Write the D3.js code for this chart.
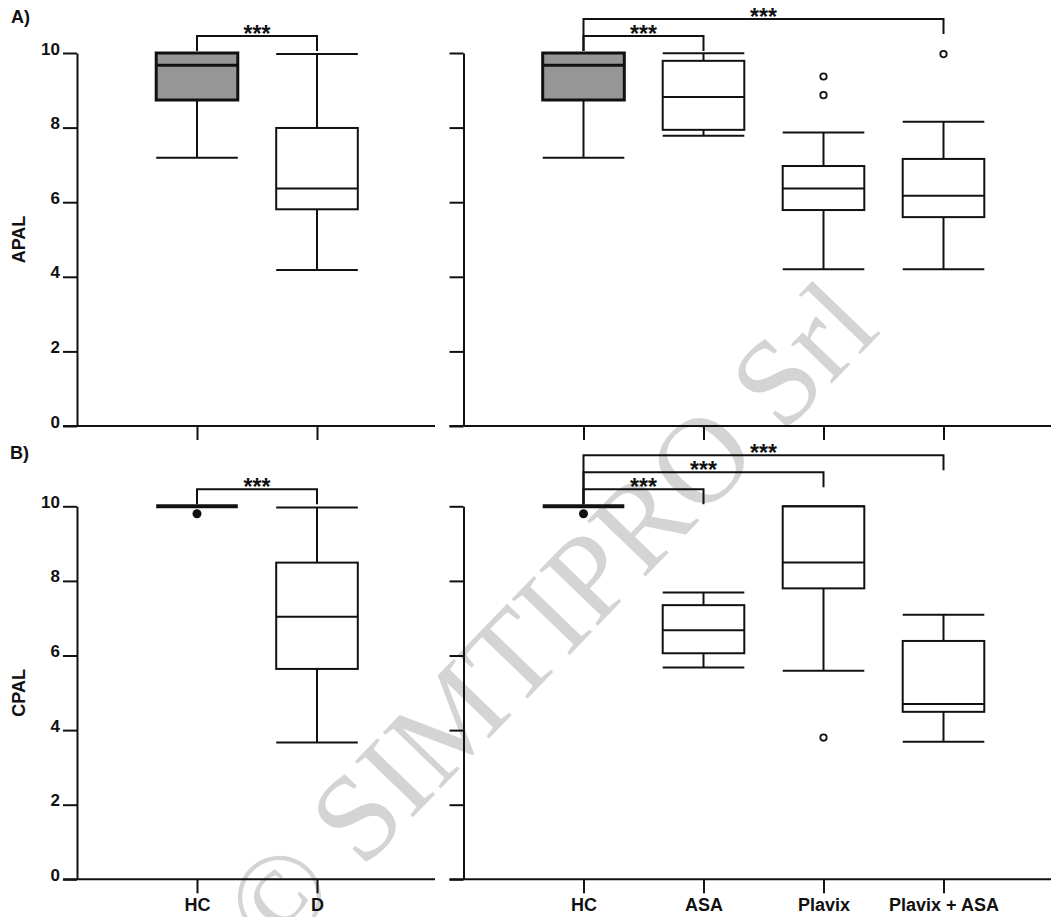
<!DOCTYPE html>
<html>
<head>
<meta charset="utf-8">
<script src="https://cdn.jsdelivr.net/npm/d3@7"></script>
<style>
  html, body { margin: 0; padding: 0; background: #fff; }
  svg { display: block; font-family: "Liberation Sans", Arial, Helvetica, sans-serif; }
</style>
</head>
<body>
<svg id="chart" width="1051" height="917"></svg>
<script>
// ---- data ----------------------------------------------------------------
const groupsTwo  = ["HC", "D"];
const groupsFour = ["HC", "ASA", "Plavix", "Plavix + ASA"];
const controlGroup = "HC";
const yTicks = [0, 2, 4, 6, 8, 10];

// five-number summaries: [low whisker, Q1, median, Q3, high whisker]
const apalTwo  = [[7.19, 8.74, 9.67, 10.0, 10.0], [4.18, 5.81, 6.37, 7.99, 9.97]];
const apalFour = [[7.19, 8.74, 9.67, 10.0, 10.0], [7.78, 7.94, 8.82, 9.79, 9.99],
                  [4.20, 5.79, 6.37, 6.97, 7.87], [4.20, 5.60, 6.17, 7.16, 8.16]];
const cpalTwo  = [[10, 10, 10, 10, 10], [3.67, 5.64, 7.04, 8.49, 9.97]];
const cpalFour = [[10, 10, 10, 10, 10], [5.68, 6.06, 6.68, 7.35, 7.69],
                  [5.59, 7.80, 8.49, 10.0, 10.0], [3.69, 4.49, 4.70, 6.39, 7.09]];

// points outside the whiskers, per group
const apalOutTwo  = [[], []];
const apalOutFour = [[], [], [9.37, 8.87], [9.97]];
const cpalOutTwo  = [[9.8], []];
const cpalOutFour = [[9.8], [], [3.8], []];

// pairwise comparisons marked above the boxes
const sigTwo      = [["HC", "D"]];
const sigApalFour = [["HC", "ASA"], ["HC", "Plavix + ASA"]];
const sigCpalFour = [["HC", "ASA"], ["HC", "Plavix"], ["HC", "Plavix + ASA"]];
const sigLabel = "***";

// ---- layout --------------------------------------------------------------
const W = 1051, H = 917;
const ink = "#111";
const rows = [
  { top: 53,    bottom: 426,   title: "APAL", letter: "A)", letterPos: [11, 23],  xLabels: false },
  { top: 506.3, bottom: 879.3, title: "CPAL", letter: "B)", letterPos: [10, 459], xLabels: true }
];
const cols = [
  { axisX: 77,    step: 120, lineEnd: 435,  yLabels: true },
  { axisX: 463.5, step: 120, lineEnd: 1051, yLabels: false }
];
const tickLen = 14;

const svg = d3.select("#chart");

// watermark sits underneath everything else
svg.append("text")
  .attr("transform", "translate(276,959) rotate(-46)")
  .attr("font-family", "'Liberation Serif', 'Times New Roman', serif")
  .attr("font-size", 123)
  .attr("fill", "#d4d4d4")
  .text("\u00A9 SIMTIPRO Srl");

function drawPanel(row, col, groups, stats, outliers, comparisons) {
  const g = svg.append("g");
  const y = d3.scaleLinear().domain([0, 10]).range([row.bottom, row.top]);
  const x = d3.scalePoint().domain(groups)
    .range([col.axisX, col.axisX + (groups.length + 1) * col.step])
    .padding(1);
  const boxW = col.step * 0.68;

  // y axis
  const yAxis = d3.axisLeft(y).tickValues(yTicks).tickSize(tickLen).tickSizeOuter(0).tickPadding(3);
  if (!col.yLabels) yAxis.tickFormat(() => "");
  const ya = g.append("g").attr("transform", `translate(${col.axisX},0)`).call(yAxis);
  ya.selectAll("path, line").attr("stroke", ink).attr("stroke-width", 2);
  ya.selectAll("text").attr("fill", ink).attr("font-size", 17).attr("font-weight", "bold")
    .attr("dy", "0.06em");

  // x axis
  const xAxis = d3.axisBottom(x).tickSize(tickLen).tickSizeOuter(0).tickPadding(5);
  if (!row.xLabels) xAxis.tickFormat(() => "");
  const xa = g.append("g").attr("transform", `translate(0,${y(0)})`).call(xAxis);
  xa.select(".domain").remove();
  xa.selectAll("line").attr("stroke", ink).attr("stroke-width", 2);
  xa.selectAll("text").attr("fill", ink).attr("font-size", 18).attr("font-weight", "bold");
  g.append("line")
    .attr("x1", col.axisX - tickLen).attr("x2", col.lineEnd)
    .attr("y1", y(0)).attr("y2", y(0))
    .attr("stroke", ink).attr("stroke-width", 2);

  // boxes
  groups.forEach((name, i) => {
    const [lo, q1, med, q3, hi] = stats[i];
    const cx = x(name);
    const isControl = name === controlGroup;
    const bg = g.append("g").attr("stroke", ink).attr("fill", "none");

    if (lo === hi) {
      // no spread at all: a single heavy bar
      bg.append("line")
        .attr("x1", cx - boxW / 2).attr("x2", cx + boxW / 2)
        .attr("y1", y(med)).attr("y2", y(med))
        .attr("stroke-width", 4);
    } else {
      const sw = isControl ? 3 : 2;
      bg.append("line").attr("x1", cx).attr("x2", cx).attr("y1", y(lo)).attr("y2", y(q1)).attr("stroke-width", 2);
      bg.append("line").attr("x1", cx).attr("x2", cx).attr("y1", y(q3)).attr("y2", y(hi)).attr("stroke-width", 2);
      [lo, hi].forEach(v => {
        bg.append("line")
          .attr("x1", cx - boxW / 2).attr("x2", cx + boxW / 2)
          .attr("y1", y(v)).attr("y2", y(v))
          .attr("stroke-width", 2);
      });
      bg.append("rect")
        .attr("x", cx - boxW / 2).attr("width", boxW)
        .attr("y", y(q3)).attr("height", y(q1) - y(q3))
        .attr("fill", isControl ? "#969696" : "none")
        .attr("stroke-width", sw);
      bg.append("line")
        .attr("x1", cx - boxW / 2).attr("x2", cx + boxW / 2)
        .attr("y1", y(med)).attr("y2", y(med))
        .attr("stroke-width", sw);
    }

    outliers[i].forEach(v => {
      g.append("circle")
        .attr("cx", cx).attr("cy", y(v))
        .attr("r", isControl ? 4.5 : 3.2)
        .attr("fill", isControl ? ink : "#fff")
        .attr("stroke", ink)
        .attr("stroke-width", isControl ? 0 : 1.8);
    });
  });

  // significance brackets
  const gap = 17, drop = 15;
  comparisons.forEach(([a, b], k) => {
    const ly = y(10) - gap - gap * k;
    const xa0 = x(a), xb0 = x(b);
    g.append("path")
      .attr("d", `M${xa0},${ly + drop + gap * k}V${ly}H${xb0}V${ly + drop}`)
      .attr("fill", "none").attr("stroke", ink).attr("stroke-width", 2);
    g.append("text")
      .attr("x", (xa0 + xb0) / 2).attr("y", ly + 6)
      .attr("text-anchor", "middle")
      .attr("font-size", 23).attr("font-weight", "bold").attr("fill", ink)
      .text(sigLabel);
  });

  // row title and panel letter
  if (col.yLabels) {
    g.append("text")
      .attr("transform", `translate(25,${(row.top + row.bottom) / 2}) rotate(-90)`)
      .attr("text-anchor", "middle")
      .attr("font-size", 18).attr("font-weight", "bold").attr("fill", ink)
      .text(row.title);
    g.append("text")
      .attr("x", row.letterPos[0]).attr("y", row.letterPos[1])
      .attr("font-size", 18).attr("font-weight", "bold").attr("fill", ink)
      .text(row.letter);
  }
}

drawPanel(rows[0], cols[0], groupsTwo,  apalTwo,  apalOutTwo,  sigTwo);
drawPanel(rows[0], cols[1], groupsFour, apalFour, apalOutFour, sigApalFour);
drawPanel(rows[1], cols[0], groupsTwo,  cpalTwo,  cpalOutTwo,  sigTwo);
drawPanel(rows[1], cols[1], groupsFour, cpalFour, cpalOutFour, sigCpalFour);
</script>
</body>
</html>
